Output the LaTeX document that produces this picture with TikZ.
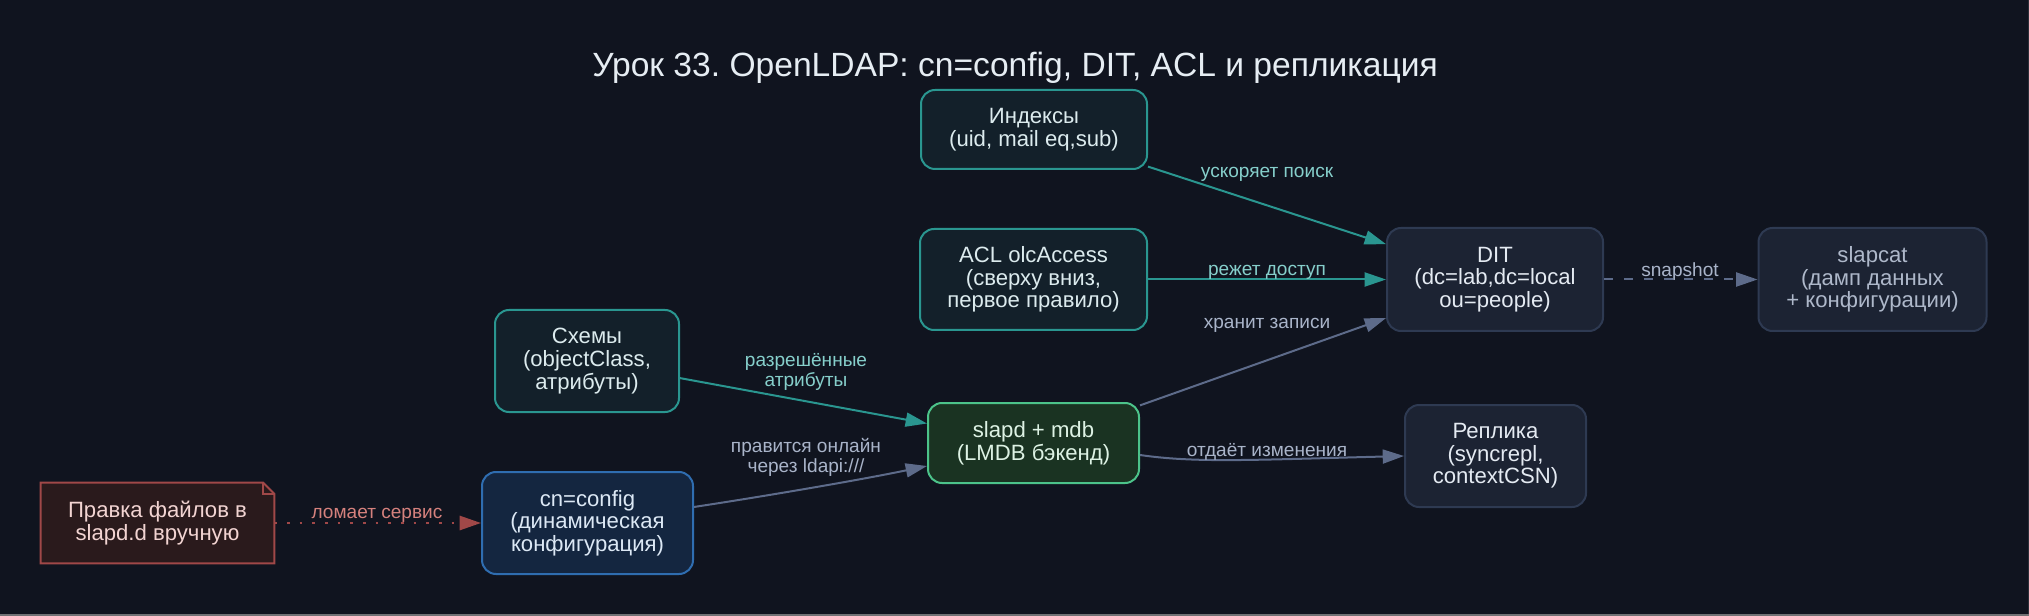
\documentclass[tikz,border=0pt]{standalone}
\usepackage{fontspec}
\setmainfont{Liberation Sans}
\usetikzlibrary{arrows.meta,calc,backgrounds}
\definecolor{bg}{HTML}{10141F}
\definecolor{tealc}{HTML}{2A9690}
\definecolor{tealfill}{HTML}{13202A}
\definecolor{tealtext}{HTML}{DCEBEE}
\definecolor{slatefill}{HTML}{1C2333}
\definecolor{slatestroke}{HTML}{2E3A52}
\definecolor{nodetext}{HTML}{E4EAF2}
\definecolor{greytext}{HTML}{AEB8CA}
\definecolor{greenfill}{HTML}{1A3322}
\definecolor{greenstroke}{HTML}{4CC38A}
\definecolor{greentext}{HTML}{DDF2E4}
\definecolor{bluefill}{HTML}{142640}
\definecolor{bluestroke}{HTML}{2F6DB0}
\definecolor{bluetext}{HTML}{DCE8F5}
\definecolor{redfill}{HTML}{2A1A1C}
\definecolor{redstroke}{HTML}{A04848}
\definecolor{redtext}{HTML}{F2D4D2}
\definecolor{edgegrey}{HTML}{5D6B8A}
\definecolor{lblteal}{HTML}{86CFCB}
\definecolor{lblgrey}{HTML}{A9B4C9}
\definecolor{lblred}{HTML}{D5817D}
\definecolor{titlec}{HTML}{E6EDF3}
\newcommand\ndfont{\fontsize{16.6}{17}\selectfont}
\newcommand\lbfont{\fontsize{14.3}{15}\selectfont}
\newcommand\titlefnt{\fontsize{25.2}{28}\selectfont}
\frenchspacing
\begin{document}
\begin{tikzpicture}[x=0.75pt,y=-0.75pt,
  box/.style={draw, rounded corners=10.5pt, line width=1.5pt, align=center, inner sep=0pt, font=\ndfont, text=nodetext},
  tealbox/.style={box, draw=tealc, fill=tealfill, text=tealtext},
  slatebox/.style={box, draw=slatestroke, fill=slatefill},
  lbl/.style={font=\lbfont, align=center, inner sep=1pt},
  arr/.style={line width=1.5pt, -{Triangle[length=16pt,width=10.5pt]}},
]
\begin{scope}[on background layer]
\fill[bg] (0,0) rectangle (2029,616);
\fill[black!40!white!70!bg] (0,614) rectangle (2029,616);
\fill[white!12!bg] (2028,0) rectangle (2029,614);
\end{scope}
\useasboundingbox (0,0) rectangle (2029,616);

\node[font=\titlefnt, text=titlec, anchor=base] (title) at (1015,77) {Урок 33. OpenLDAP: cn=config, DIT, ACL и репликация};

\node[tealbox, minimum width=169.5pt, minimum height=59.25pt] (idx) at (1034,129.5) {Индексы\\(uid, mail eq,sub)};
\node[tealbox, minimum width=170.25pt, minimum height=75.75pt] (acl) at (1033.5,279.5) {ACL olcAccess\\(сверху вниз,\\первое правило)};
\node[slatebox, minimum width=162pt, minimum height=77.25pt] (dit) at (1495,279.5) {DIT\\(dc=lab,dc=local\\ou=people)};
\node[slatebox, text=greytext, minimum width=171pt, minimum height=77.25pt] (slapcat) at (1872.5,279.5) {slapcat\\(дамп данных\\+ конфигурации)};
\node[slatebox, minimum width=135.75pt, minimum height=76.5pt] (repl) at (1495.5,456) {Реплика\\(syncrepl,\\contextCSN)};
\node[tealbox, minimum width=138pt, minimum height=76.5pt] (schema) at (587,361) {Схемы\\(objectClass,\\атрибуты)};
\node[box, draw=greenstroke, fill=greenfill, text=greentext, minimum width=158.25pt, minimum height=60pt] (slapd) at (1033.5,443) {slapd + mdb\\(LMDB бэкенд)};
\node[box, draw=bluestroke, fill=bluefill, text=bluetext, minimum width=158.25pt, minimum height=76.5pt] (cfg) at (587.5,523) {cn=config\\(динамическая\\конфигурация)};
\node[align=center, inner sep=0pt, font=\ndfont, text=redtext, minimum width=174.75pt, minimum height=60pt] (fix) at (157.5,523) {Правка файлов в\\slapd.d вручную};

\begin{scope}[on background layer]
\filldraw[fill=redfill, draw=redstroke, line width=1.5pt]
  (fix.north west) -- ($(fix.north east)+(-11,0)$) -- ($(fix.north east)+(0,11)$) -- (fix.south east) -- (fix.south west) -- cycle;
\draw[redstroke, line width=1.5pt] ($(fix.north east)+(-11,0)$) -- ($(fix.north east)+(-11,11)$) -- ($(fix.north east)+(0,11)$);
\end{scope}

% connectors
\draw[arr, tealc] (idx) -- (dit);
\draw[arr, tealc] (acl) -- (dit);
\draw[arr, edgegrey] (slapd) -- (dit);
\draw[arr, tealc] (schema) -- (slapd);
\draw[arr, edgegrey] (cfg) .. controls (760,497) and (860,480) .. (slapd.west |- 0,466);
\draw[arr, edgegrey] ($(slapd.east)+(0,12)$) .. controls (1195,463) and (1250,460) .. (repl.west);
\draw[arr, edgegrey, dash pattern=on 6.75pt off 8.25pt] (dit) -- (slapcat);
\draw[arr, redstroke, line width=2pt, dash pattern=on 2pt off 7.5pt] (fix) -- (cfg);

% labels
\node[lbl, text=lblteal] (l1) at (1267,174) {ускоряет поиск};
\node[lbl, text=lblteal] (l2) at (1267,272) {режет доступ};
\node[lbl, text=lblgrey] (l3) at (1267,325) {хранит записи};
\node[lbl, text=lblgrey] (l4) at (1680,272) {snapshot};
\node[lbl, text=lblgrey] (l5) at (1267,452) {отдаёт изменения};
\node[lbl, text=lblteal] (l6) at (806,372) {разрешённые\\атрибуты};
\node[lbl, text=lblgrey] (l7) at (806,457) {правится онлайн\\через ldapi:///};
\node[lbl, text=lblred] (l8) at (377,515) {ломает сервис};
\end{tikzpicture}
\end{document}
